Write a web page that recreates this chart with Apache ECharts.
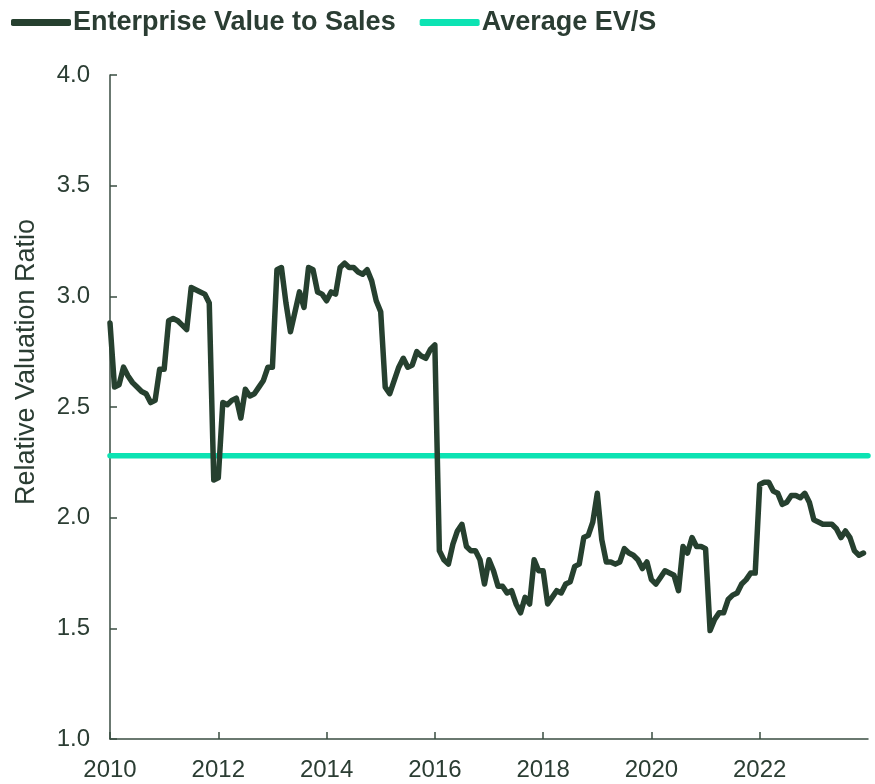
<!DOCTYPE html>
<html>
<head>
<meta charset="utf-8">
<script src="https://cdn.jsdelivr.net/npm/echarts@6/dist/echarts.min.js"></script>
<style>
  html, body { margin: 0; padding: 0; background: #fff; }
  #main { width: 875px; height: 784px; }
</style>
</head>
<body>
<div id="main"></div>
<script>
// monthly EV/S, Jan 2010 .. Dec 2023
var startYear = 2010;
var evsValues = [
  2.88, 2.59, 2.60, 2.68, 2.64, 2.61, 2.59, 2.57, 2.56, 2.52, 2.53, 2.67,
  2.67, 2.89, 2.90, 2.89, 2.87, 2.85, 3.04, 3.03, 3.02, 3.01, 2.97, 2.17,
  2.18, 2.52, 2.51, 2.53, 2.54, 2.45, 2.58, 2.55, 2.56, 2.59, 2.62, 2.68,
  2.68, 3.12, 3.13, 2.97, 2.84, 2.93, 3.02, 2.95, 3.13, 3.12, 3.02, 3.01,
  2.98, 3.02, 3.01, 3.13, 3.15, 3.13, 3.13, 3.11, 3.10, 3.12, 3.07, 2.98,
  2.93, 2.59, 2.56, 2.62, 2.68, 2.72, 2.68, 2.69, 2.75, 2.73, 2.72, 2.76,
  2.78, 1.85, 1.81, 1.79, 1.88, 1.94, 1.97, 1.87, 1.85, 1.85, 1.81, 1.70,
  1.81, 1.76, 1.69, 1.69, 1.66, 1.67, 1.61, 1.57, 1.64, 1.61, 1.81, 1.76,
  1.76, 1.61, 1.64, 1.67, 1.66, 1.70, 1.71, 1.78, 1.79, 1.91, 1.92, 1.98,
  2.11, 1.90, 1.80, 1.80, 1.79, 1.80, 1.86, 1.84, 1.83, 1.81, 1.77, 1.80,
  1.72, 1.70, 1.73, 1.76, 1.75, 1.74, 1.67, 1.87, 1.84, 1.91, 1.87, 1.87,
  1.86, 1.49, 1.54, 1.57, 1.57, 1.63, 1.65, 1.66, 1.70, 1.72, 1.75, 1.75,
  2.15, 2.16, 2.16, 2.12, 2.11, 2.06, 2.07, 2.10, 2.10, 2.09, 2.11, 2.07,
  1.99, 1.98, 1.97, 1.97, 1.97, 1.95, 1.91, 1.94, 1.91, 1.85, 1.83, 1.84
];
var averageEvs = 2.28;
var yTicks = [1.0, 1.5, 2.0, 2.5, 3.0, 3.5, 4.0];
var xRange = [2010, 2024];

var darkGreen = '#26402f';
var mint = '#0ce3b3';
var textColor = '#2b3d33';

var evsData = evsValues.map(function (v, i) {
  return [startYear + i / 12, v];
});
var avgData = [[xRange[0], averageEvs], [xRange[1], averageEvs]];

var chart = echarts.init(document.getElementById('main'));
var option = {
  animation: false,
  textStyle: { fontFamily: 'Liberation Sans, Arial, sans-serif', color: textColor },
  legend: {
    left: 6,
    top: 4,
    itemWidth: 60,
    itemHeight: 7,
    itemGap: 24,
    icon: 'roundRect',
    textStyle: { fontSize: 27, fontWeight: 'bold', color: textColor, padding: [0, 0, 0, -3] },
    data: ['Enterprise Value to Sales', 'Average EV/S']
  },
  grid: { left: 110, right: 7, top: 75, bottom: 45 },
  xAxis: {
    type: 'value',
    min: xRange[0],
    max: xRange[1],
    interval: 2,
    splitLine: { show: false },
    axisLine: { lineStyle: { color: '#3a4d42', width: 1.5 } },
    axisTick: { inside: true, length: 7, lineStyle: { color: '#3a4d42', width: 1.5 } },
    axisLabel: {
      fontSize: 24, color: textColor, margin: 19,
      showMaxLabel: false,
      formatter: function (v) { return v >= xRange[1] ? '' : String(v); }
    }
  },
  yAxis: {
    type: 'value',
    min: yTicks[0],
    max: yTicks[yTicks.length - 1],
    interval: 0.5,
    name: 'Relative Valuation Ratio',
    nameLocation: 'middle',
    nameGap: 70,
    nameTextStyle: { fontSize: 27, color: textColor, padding: [0, 0, 0, 90] },
    splitLine: { show: false },
    axisLine: { show: true, lineStyle: { color: '#3a4d42', width: 1.5 } },
    axisTick: { show: true, inside: true, length: 7, lineStyle: { color: '#3a4d42', width: 1.5 } },
    axisLabel: {
      fontSize: 24, color: textColor, margin: 20,
      formatter: function (v) { return v.toFixed(1); }
    }
  },
  series: [
    {
      name: 'Enterprise Value to Sales',
      type: 'line',
      data: evsData,
      symbol: 'none',
      color: darkGreen,
      lineStyle: { width: 5.5, color: darkGreen, cap: 'round', join: 'round' },
      z: 3
    },
    {
      name: 'Average EV/S',
      type: 'line',
      data: avgData,
      symbol: 'none',
      color: mint,
      lineStyle: { width: 5.5, color: mint, cap: 'round' },
      z: 2
    }
  ]
};
chart.setOption(option);
</script>
</body>
</html>
